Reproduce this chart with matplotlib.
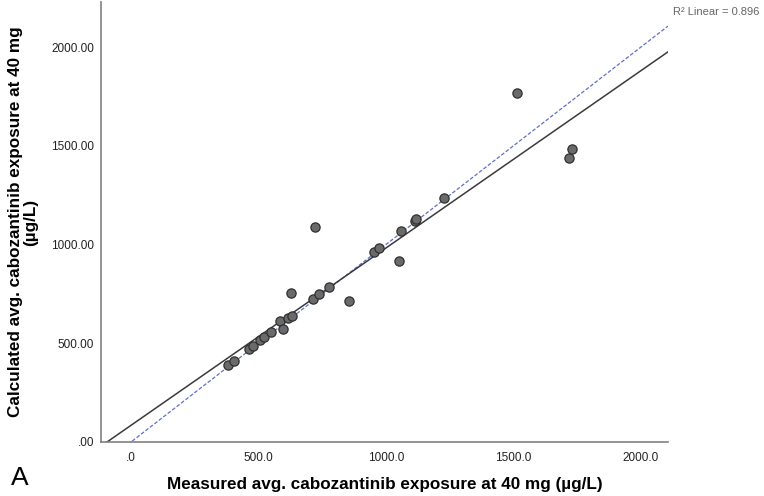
import matplotlib
matplotlib.use("Agg")
import matplotlib.pyplot as plt
import numpy as np

plt.rcParams["font.family"] = ["Liberation Sans", "DejaVu Sans"]

# Data
measured = [380, 404, 463, 478, 506, 522, 549, 584, 596, 616, 631, 627, 720, 714,
            737, 776, 855, 953, 973, 1051, 1059, 1114, 1118, 1227, 1514, 1718, 1729]
calculated = [390, 410, 471, 486, 516, 532, 557, 613, 572, 628, 638, 754, 1090, 724,
              749, 785, 714, 962, 982, 916, 1068, 1119, 1129, 1235, 1767, 1438, 1484]

fit_intercept = 84.4
fit_slope = 0.898
r2_text = "R\u00b2 Linear = 0.896"

x_ticks = [0, 500, 1000, 1500, 2000]
x_ticklabels = [".0", "500.0", "1000.0", "1500.0", "2000.0"]
y_ticks = [0, 500, 1000, 1500, 2000]
y_ticklabels = [".00", "500.00", "1000.00", "1500.00", "2000.00"]

xlim = (-117.6, 2106)
ylim = (0, 2228)

fig = plt.figure(figsize=(7.64, 4.96), dpi=100)
ax = fig.add_axes([101/764, 54/496, (668-101)/764, (442-2)/496])

ax.set_xlim(*xlim)
ax.set_ylim(*ylim)

# identity reference line (blue dashed)
xx = np.array(xlim)
ax.plot(xx, xx, color="#5f70c8", lw=0.9, ls=(0, (3, 1.5)), zorder=2, clip_on=True)
# linear fit line
ax.plot(xx, fit_intercept + fit_slope * xx, color="#3a3a3a", lw=1.1, zorder=2, clip_on=True)

ax.scatter(measured, calculated, s=44, facecolor="#6a6a6a", edgecolor="#2f2f2f",
           linewidth=0.9, zorder=3)

ax.set_xticks(x_ticks)
ax.set_xticklabels(x_ticklabels)
ax.set_yticks(y_ticks)
ax.set_yticklabels(y_ticklabels)
ax.tick_params(axis="both", length=0, labelsize=8.5, colors="#222222")
ax.tick_params(axis="x", pad=7)
ax.tick_params(axis="y", pad=5)

for s in ["top", "right"]:
    ax.spines[s].set_visible(False)
for s in ["left", "bottom"]:
    ax.spines[s].set_color("#808080")
    ax.spines[s].set_linewidth(1.2)

fig.text(384.5/764, 1 - 484/496, "Measured avg. cabozantinib exposure at 40 mg (\u00b5g/L)",
         ha="center", va="center", fontsize=12.3, fontweight="bold")
fig.text(23/764, 1 - 222/496, "Calculated avg. cabozantinib exposure at 40 mg\n(\u00b5g/L)",
         ha="center", va="center", rotation=90, fontsize=12.3, fontweight="bold",
         linespacing=1.0)
fig.text(20/764, 1 - 478/496, "A", ha="center", va="center", fontsize=19)
fig.text(673/764, 1 - 12/496, r2_text, ha="left", va="center", fontsize=8,
         color="#666666")

fig.savefig("out.png", dpi=100)
